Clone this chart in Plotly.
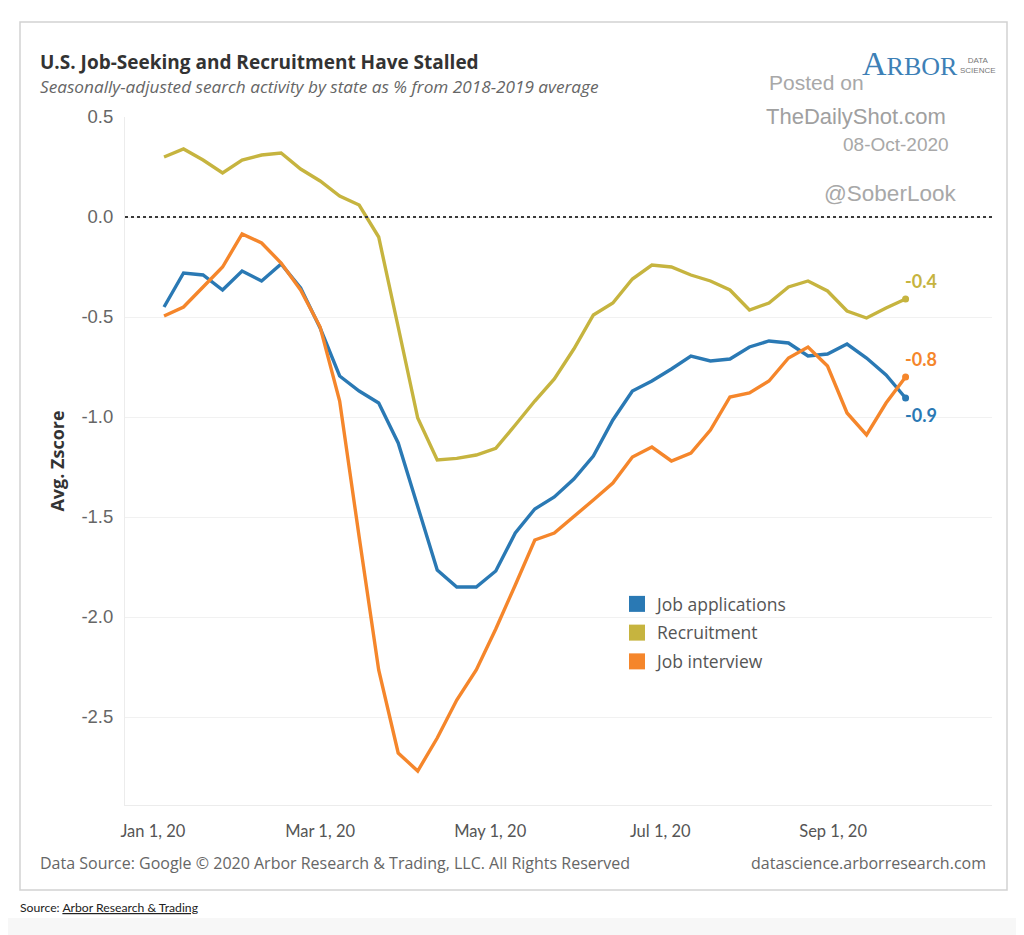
import plotly.graph_objects as go

# weekly observations (week starting Sunday)
weeks = [
    "2020-01-05", "2020-01-12", "2020-01-19", "2020-01-26",
    "2020-02-02", "2020-02-09", "2020-02-16", "2020-02-23",
    "2020-03-01", "2020-03-08", "2020-03-15", "2020-03-22", "2020-03-29",
    "2020-04-05", "2020-04-12", "2020-04-19", "2020-04-26",
    "2020-05-03", "2020-05-10", "2020-05-17", "2020-05-24", "2020-05-31",
    "2020-06-07", "2020-06-14", "2020-06-21", "2020-06-28",
    "2020-07-05", "2020-07-12", "2020-07-19", "2020-07-26",
    "2020-08-02", "2020-08-09", "2020-08-16", "2020-08-23", "2020-08-30",
    "2020-09-06", "2020-09-13", "2020-09-20", "2020-09-27",
]

job_applications = [
    -0.45, -0.28, -0.29, -0.365, -0.27, -0.32, -0.235, -0.355,
    -0.555, -0.795, -0.87, -0.93, -1.13, -1.45, -1.765, -1.85,
    -1.85, -1.77, -1.58, -1.46, -1.40, -1.31, -1.195, -1.015,
    -0.87, -0.82, -0.76, -0.695, -0.72, -0.71, -0.65, -0.62,
    -0.63, -0.695, -0.685, -0.635, -0.705, -0.79, -0.905,
]
recruitment = [
    0.30, 0.34, 0.285, 0.22, 0.285, 0.31, 0.32, 0.24,
    0.18, 0.105, 0.06, -0.10, -0.55, -1.005, -1.215, -1.207,
    -1.19, -1.157, -1.04, -0.92, -0.81, -0.66, -0.49, -0.43,
    -0.31, -0.24, -0.25, -0.29, -0.32, -0.365, -0.465, -0.43,
    -0.35, -0.32, -0.37, -0.47, -0.505, -0.455, -0.41,
]
job_interview = [
    -0.495, -0.45, -0.35, -0.25, -0.085, -0.13, -0.23, -0.365,
    -0.55, -0.92, -1.6, -2.265, -2.68, -2.77, -2.605, -2.415,
    -2.265, -2.06, -1.84, -1.615, -1.58, -1.50, -1.415, -1.33,
    -1.2, -1.15, -1.22, -1.18, -1.065, -0.90, -0.88, -0.82,
    -0.705, -0.65, -0.745, -0.98, -1.09, -0.93, -0.80,
]

tick_dates = ["2020-01-01", "2020-03-01", "2020-05-01", "2020-07-01", "2020-09-01"]
tick_labels = ["Jan 1, 20", "Mar 1, 20", "May 1, 20", "Jul 1, 20", "Sep 1, 20"]
y_ticks = [0.5, 0.0, -0.5, -1.0, -1.5, -2.0, -2.5]

BLUE = "#2a79b4"
GOLD = "#c6b43f"
ORANGE = "#f5862b"

# page is 1024x935, the browser puts the figure 8px in from the top-left
OFF = 8
W, H = 1024 - OFF, 935 - OFF
L, R, T, B = 125, 992, 117, 805  # plot area in page pixels

SANS = "Open Sans, Lato, sans-serif"
ARIAL = "Liberation Sans, Arial, sans-serif"


def px(x):
    return (x - L) / (R - L)


def py(y):
    return (B - y) / (B - T)


series = [
    ("Job applications", job_applications, BLUE, -17),
    ("Recruitment", recruitment, GOLD, 18),
    ("Job interview", job_interview, ORANGE, 18),
]

fig = go.Figure()

fig.add_hline(y=0, line=dict(color="#3a3a3a", width=2, dash="dot"))

for name, vals, color, shift in series:
    fig.add_trace(go.Scatter(
        x=weeks, y=vals, mode="lines", name=name,
        line=dict(color=color, width=3.4), showlegend=False,
    ))
    # end dot
    fig.add_trace(go.Scatter(
        x=weeks[-1:], y=vals[-1:], mode="markers",
        marker=dict(color=color, size=7), showlegend=False,
    ))
    fig.add_annotation(
        x=weeks[-1], y=vals[-1], text="<b>%.1f</b>" % vals[-1],
        showarrow=False, xanchor="left", yanchor="middle", xshift=-3, yshift=shift,
        font=dict(family="Lato, Open Sans, sans-serif", size=18, color=color),
    )

# legend entries as squares, one group each so the gap can be set
for name, vals, color, shift in series:
    fig.add_trace(go.Scatter(
        x=[None], y=[None], mode="markers", name=name, legendgroup=name,
        marker=dict(symbol="square", size=16, color=color),
    ))

fig.update_layout(
    width=W, height=H,
    margin=dict(l=L - OFF, r=1024 - R, t=T - OFF, b=935 - B),
    paper_bgcolor="white", plot_bgcolor="white",
    font=dict(family=SANS, color="#555"),
    showlegend=True,
    legend=dict(
        x=px(617), y=py(586), xanchor="left", yanchor="top",
        bgcolor="rgba(0,0,0,0)", tracegroupgap=3,
        font=dict(family=SANS, size=17.5, color="#555"),
    ),
    xaxis=dict(
        range=["2019-12-22", "2020-10-28"],
        tickvals=tick_dates, ticktext=tick_labels,
        tickfont=dict(family="Lato, sans-serif", size=16.5, color="#555"),
        showgrid=False, zeroline=False,
        showline=True, linecolor="#ececec", linewidth=1,
        ticks="outside", ticklen=11, tickcolor="rgba(0,0,0,0)",
    ),
    yaxis=dict(
        range=[-2.94, 0.5],
        tickvals=y_ticks, ticktext=["%.1f" % v for v in y_ticks],
        tickfont=dict(family=ARIAL, size=18.5, color="#666"),
        showgrid=True, gridcolor="#f1f1f1", gridwidth=1,
        zeroline=False,
        showline=True, linecolor="#ececec", linewidth=1,
        ticks="outside", ticklen=7, tickcolor="rgba(0,0,0,0)",
        title=dict(text="<b>Avg. Zscore</b>", standoff=12,
                   font=dict(family=SANS, size=18, color="#333")),
    ),
)

# outer frame and the page strip at the bottom
fig.add_shape(type="rect", xref="paper", yref="paper",
              x0=px(20), x1=px(1007), y0=py(890), y1=py(22),
              line=dict(color="#d2d2d2", width=1.5), layer="below")
fig.add_shape(type="rect", xref="paper", yref="paper",
              x0=px(OFF), x1=px(1024), y0=py(935), y1=py(918),
              line=dict(width=0), fillcolor="#f7f7f7", layer="below")


def note(text, x, y, size, color, family=SANS, anchor="left"):
    fig.add_annotation(
        xref="paper", yref="paper", x=px(x), y=py(y), text=text,
        showarrow=False, xanchor=anchor, yanchor="middle",
        font=dict(family=family, size=size, color=color),
    )


note("<b>U.S. Job-Seeking and Recruitment Have Stalled</b>", 38, 62, 19, "#333")
note("<i>Seasonally-adjusted search activity by state as % from 2018-2019 average</i>",
     38, 86, 17.2, "#666")

note("Posted on", 767, 83, 21, "#a8a8a8", ARIAL)
note("TheDailyShot.com", 764, 116, 22, "#a0a0a0", ARIAL)
note("08-Oct-2020", 951, 145, 19, "#a8a8a8", ARIAL, "right")
note("@SoberLook", 958, 193, 22.5, "#a8a8a8", ARIAL, "right")

note("<span style='font-size:34px'>A</span>RBOR", 860, 64, 26, "#3d80b6",
     "Liberation Serif, DejaVu Serif, serif")
note("DATA<br>SCIENCE", 958, 66, 8, "#777", ARIAL)

note("Data Source: Google \u00a9 2020 Arbor Research & Trading, LLC. All Rights Reserved",
     38, 863, 16, "#666")
note("datascience.arborresearch.com", 988, 863, 16, "#666", anchor="right")

note("Source: <span style='text-decoration:underline'>Arbor Research & Trading</span>",
     18, 907, 12.2, "#222", "Lato, sans-serif")

fig.write_html("out.html")
